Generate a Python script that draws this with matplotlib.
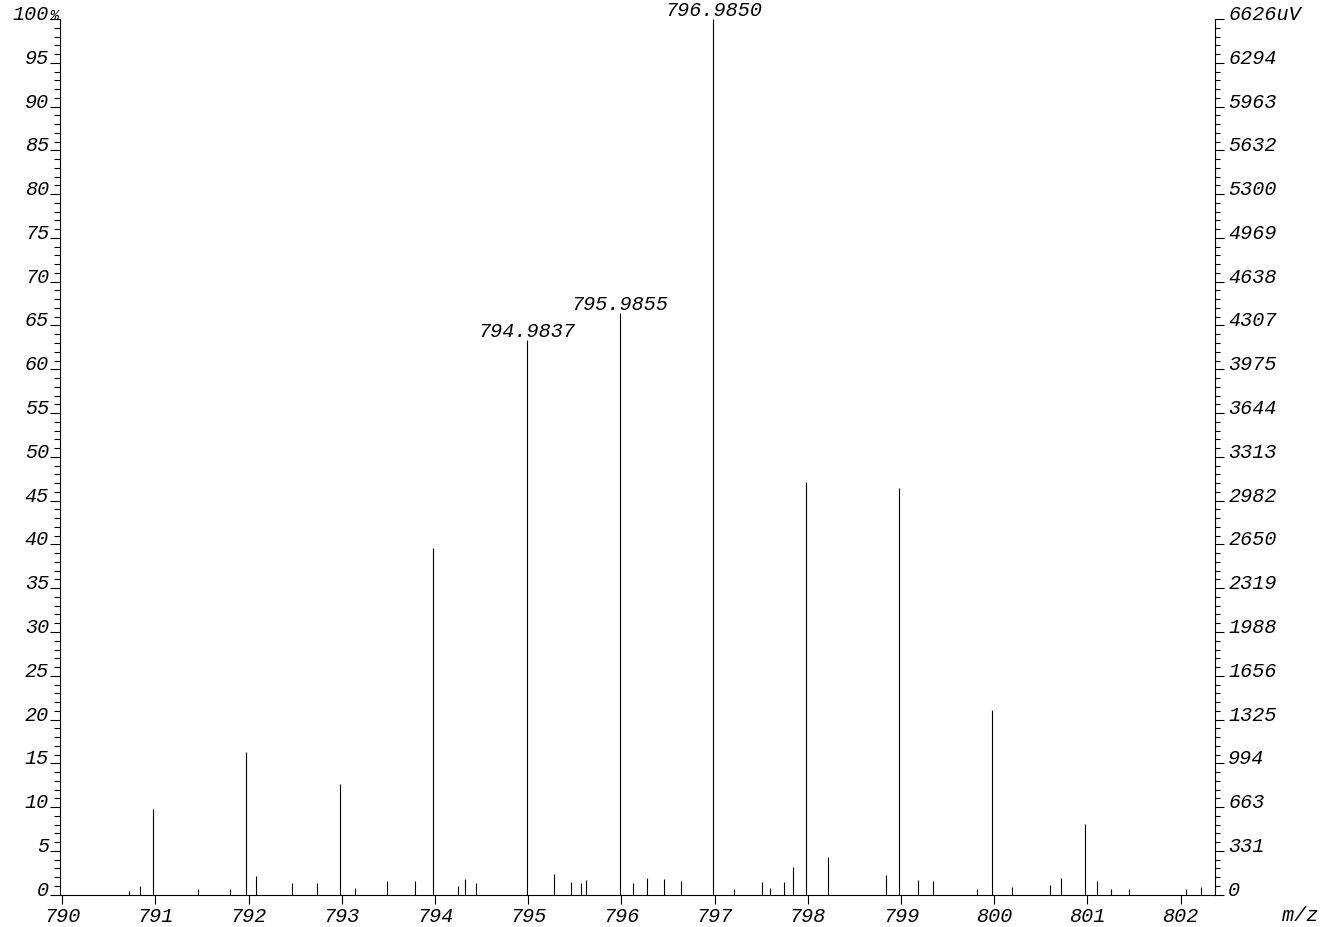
import matplotlib
matplotlib.use('Agg')
import matplotlib.pyplot as plt
from matplotlib.ticker import FixedLocator, MultipleLocator

# ---- data ----
main_mz = [790.975, 791.975, 792.975, 793.978, 794.9837, 795.9855, 796.9850,
           797.98, 798.98, 799.98, 800.98]
main_int = [9.8, 16.3, 12.6, 39.6, 63.3, 66.4, 100.0, 47.1, 46.4, 21.1, 8.1]

small_mz = [790.716, 790.837, 791.453, 791.796, 792.078, 792.461, 792.736,
            793.144, 793.481, 793.781, 794.249, 794.321, 794.439, 795.276,
            795.458, 795.569, 795.622, 796.123, 796.277, 796.453, 796.635,
            797.204, 797.511, 797.593, 797.740, 797.840, 798.219, 798.835,
            799.185, 799.345, 799.814, 800.187, 800.598, 800.719, 801.099,
            801.249, 801.449, 802.064, 802.225]
small_int = [0.4, 1.0, 0.7, 0.7, 2.1, 1.3, 1.3, 0.8, 1.6, 1.6, 0.96, 1.8, 1.3,
             2.4, 1.4, 1.3, 1.7, 1.3, 1.9, 1.8, 1.6, 0.6, 1.5, 0.8, 1.5, 3.2,
             4.3, 2.25, 1.7, 1.6, 0.6, 0.85, 1.1, 1.9, 1.6, 0.7, 0.7, 0.7, 0.85]

label_idx = [4, 5, 6]
label_text = ['794.9837', '795.9855', '796.9850']

x_ticks = list(range(790, 803))
left_ticks = list(range(0, 101, 5))
left_labels = [str(v) for v in range(0, 100, 5)] + ['100']
right_labels = ['0', '331', '663', '994', '1325', '1656', '1988', '2319', '2650',
                '2982', '3313', '3644', '3975', '4307', '4638', '4969', '5300',
                '5632', '5963', '6294', '6626uV']

FONT = dict(family='Liberation Mono', style='italic', size=14.5)
W, H = 1340, 928

fig = plt.figure(figsize=(W / 100, H / 100), dpi=100)
ax = fig.add_axes([59.5 / W, (H - 895.7) / H, (1215 - 59.5) / W, (895.7 - 20) / H])
ax.set_xlim(789.97, 802.37)
ax.set_ylim(0, 100)

ax.vlines(main_mz, 0, main_int, color='black', lw=0.8)
ax.vlines(small_mz, 0, small_int, color='black', lw=0.8)

for i, t in zip(label_idx, label_text):
    ax.annotate(t, (main_mz[i], main_int[i]), xytext=(0, 0), textcoords='offset points',
                ha='center', va='bottom', annotation_clip=False, **FONT)

for s in ['top', 'right']:
    ax.spines[s].set_visible(False)
for s in ['left', 'bottom']:
    ax.spines[s].set_linewidth(0.8)

ax.xaxis.set_major_locator(FixedLocator(x_ticks))
ax.set_xticklabels([str(v) for v in x_ticks], **FONT)
ax.tick_params(axis='x', direction='out', length=6.3, width=0.8, pad=2)

ax.yaxis.set_major_locator(FixedLocator(left_ticks))
ax.yaxis.set_minor_locator(MultipleLocator(1))
ax.set_yticklabels(left_labels, va='baseline', **FONT)
ax.tick_params(axis='y', which='major', direction='out', length=7.3, width=0.8, pad=0.3)
ax.tick_params(axis='y', which='minor', direction='out', length=4.5, width=0.8)

ax2 = ax.twinx()
ax2.set_ylim(0, 100)
for s in ['top', 'left', 'bottom']:
    ax2.spines[s].set_visible(False)
ax2.spines['right'].set_linewidth(0.8)
ax2.yaxis.set_major_locator(FixedLocator(left_ticks))
ax2.yaxis.set_minor_locator(MultipleLocator(1))
ax2.set_yticklabels(right_labels, va='baseline', **FONT)
ax2.tick_params(axis='y', which='major', direction='out', length=6.5, width=0.8, pad=3)
ax2.tick_params(axis='y', which='minor', direction='out', length=3.8, width=0.8)

# percent sign next to the 100 label
fig.text(58.5 / W, 1 - 20 / H, '%', ha='right', va='baseline',
         family='Liberation Mono', style='italic', size=11)
fig.text(1300 / W, 1 - 921 / H, 'm/z', ha='center', va='baseline', **FONT)

fig.savefig('out.png', dpi=100)
